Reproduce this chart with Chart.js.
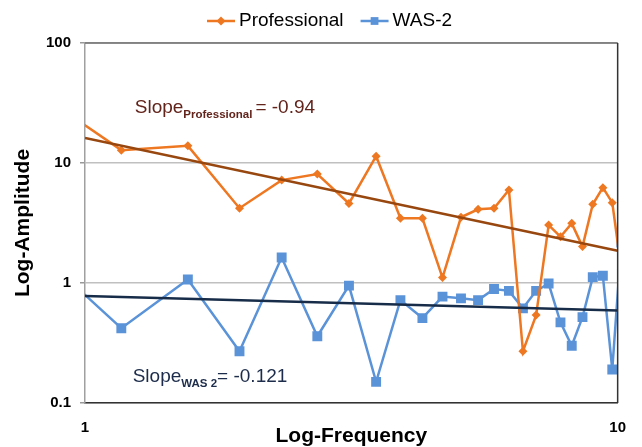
<!DOCTYPE html>
<html>
<head>
<meta charset="utf-8">
<script src="https://cdn.jsdelivr.net/npm/chart.js@4.4.0/dist/chart.umd.min.js"></script>
<style>
  html, body { margin: 0; padding: 0; background: #fff; }
</style>
</head>
<body>
<canvas id="spec" width="642" height="447"></canvas>
<script>
// --- data (first and last points sit just outside the axis range) ---
const freq = [0.78, 1.17, 1.56, 1.95, 2.34, 2.73, 3.13, 3.52, 3.91, 4.30, 4.69, 5.08, 5.47,
              5.86, 6.25, 6.64, 7.03, 7.42, 7.81, 8.20, 8.59, 8.98, 9.38, 9.77, 10.16];
const professional = [44, 12.8, 13.9, 4.2, 7.2, 8.1, 4.6, 11.4, 3.46, 3.46, 1.11, 3.53, 4.11,
                      4.19, 5.96, 0.27, 0.54, 3.04, 2.43, 3.14, 2.01, 4.53, 6.23, 4.67, 1.29];
const was2 = [2.19, 0.42, 1.07, 0.27, 1.63, 0.36, 0.95, 0.15, 0.72, 0.51, 0.77, 0.745, 0.72,
              0.89, 0.86, 0.615, 0.86, 0.99, 0.47, 0.30, 0.52, 1.12, 1.15, 0.19, 2.17];

// power-law trend lines, end points at x = 1 and x = 10
const trendX = [1, 10];
const trendPro = [16.2, 1.86];
const trendWas = [0.78, 0.59];

const seriesNames = ['Professional', 'WAS-2'];
const xTicks = [1, 10];
const yTicks = [0.1, 1, 10, 100];

const ORANGE = '#ee7722';
const BLUE = '#5b93d8';
const BROWN = '#98470f';
const NAVY = '#172c48';
const FONT = '"Liberation Sans", Arial, sans-serif';

const toPts = (xs, ys) => xs.map((x, i) => ({ x: x, y: ys[i] }));

// --- legend, frame and slope labels ---
function slopeLabel(ctx, x, y, sub, rest, color, gap) {
    ctx.fillStyle = color;
    ctx.textBaseline = 'middle';
    ctx.textAlign = 'left';
    ctx.font = '19px ' + FONT;
    ctx.fillText('Slope', x, y);
    let w = ctx.measureText('Slope').width;
    ctx.font = 'bold 11.5px ' + FONT;
    ctx.fillText(sub, x + w, y + 7);
    w += ctx.measureText(sub).width + gap;
    ctx.font = '19px ' + FONT;
    ctx.fillText(rest, x + w, y);
}

const extras = {
    id: 'extras',
    afterDatasetsDraw(c) {
        const { ctx, chartArea: a } = c;
        ctx.save();
        ctx.lineWidth = 1.5;
        ctx.strokeStyle = '#6e6e6e';
        ctx.beginPath(); ctx.moveTo(a.left, a.top); ctx.lineTo(a.right, a.top); ctx.stroke();
        ctx.strokeStyle = '#333';
        ctx.beginPath(); ctx.moveTo(a.right, a.top); ctx.lineTo(a.right, a.bottom); ctx.stroke();
        ctx.restore();
    },
    afterDraw(c) {
        const { ctx } = c;
        const sx = c.scales.x, sy = c.scales.y;
        ctx.save();

        // legend
        const marks = [
            { color: ORANGE, style: 'rectRot', r: 4.5 },
            { color: BLUE, style: 'rect', r: 5.5 }
        ];
        let lx = 207;
        const ly = 21;
        ctx.font = '19px ' + FONT;
        ctx.textBaseline = 'middle';
        marks.forEach((m, i) => {
            ctx.strokeStyle = m.color;
            ctx.fillStyle = m.color;
            ctx.lineWidth = 2.5;
            ctx.beginPath(); ctx.moveTo(lx, ly); ctx.lineTo(lx + 28, ly); ctx.stroke();
            Chart.helpers.drawPoint(ctx, { pointStyle: m.style, radius: m.r, borderWidth: 0, rotation: 0 }, lx + 14, ly);
            ctx.fillStyle = '#000';
            ctx.font = '19px ' + FONT;
            ctx.fillText(seriesNames[i], lx + 32, ly);
            lx += 32 + ctx.measureText(seriesNames[i]).width + 17;
        });

        // slope annotations
        slopeLabel(ctx, sx.getPixelForValue(1.24), sy.getPixelForValue(28.7),
                   'Professional', '= -0.94', '#62231b', 3);
        slopeLabel(ctx, sx.getPixelForValue(1.229), sy.getPixelForValue(0.165),
                   'WAS 2', '= -0.121', '#1c2c4a', 0);
        ctx.restore();
    }
};

const tickFont = { family: FONT, size: 15, weight: 'bold' };
const titleFont = { family: FONT, size: 21, weight: 'bold', lineHeight: 1 };

new Chart(document.getElementById('spec'), {
    type: 'line',
    data: {
        datasets: [
            { label: 'Slope Professional', data: toPts(trendX, trendPro), borderColor: BROWN,
              borderWidth: 2.5, pointRadius: 0, clip: 0, order: 0 },
            { label: 'Slope WAS-2', data: toPts(trendX, trendWas), borderColor: NAVY,
              borderWidth: 2.5, pointRadius: 0, clip: 0, order: 0 },
            { label: seriesNames[0], data: toPts(freq, professional), borderColor: ORANGE,
              backgroundColor: ORANGE, borderWidth: 2.5, pointStyle: 'rectRot', pointRadius: 4.5,
              pointBorderWidth: 0, clip: 0, order: 1 },
            { label: seriesNames[1], data: toPts(freq, was2), borderColor: BLUE,
              backgroundColor: BLUE, borderWidth: 2.5, pointStyle: 'rect', pointRadius: 7,
              pointBorderWidth: 0, clip: 0, order: 1 }
        ]
    },
    options: {
        responsive: false,
        animation: false,
        devicePixelRatio: 1,
        layout: { padding: { top: 43, right: 21, left: 0, bottom: 0 } },
        plugins: { legend: { display: false }, tooltip: { enabled: false } },
        scales: {
            x: {
                type: 'logarithmic', min: 1, max: 10,
                afterBuildTicks: s => { s.ticks = xTicks.map(v => ({ value: v })); },
                afterFit: s => { s.height = 44; },
                ticks: { callback: v => String(v), font: tickFont, color: '#000', padding: 16,
                         maxRotation: 0, autoSkip: false },
                grid: { color: 'rgba(0,0,0,0)', drawTicks: false },
                border: { color: '#333', width: 1.5 },
                title: { display: true, text: 'Log-Frequency', font: titleFont, color: '#000',
                         padding: 0 }
            },
            y: {
                type: 'logarithmic', min: 0.1, max: 100,
                afterBuildTicks: s => { s.ticks = yTicks.map(v => ({ value: v })); },
                afterFit: s => { s.width = 85; },
                ticks: { callback: v => String(v), font: tickFont, color: '#000', padding: 9 },
                grid: { color: '#c0c0c0', lineWidth: 1.5, tickLength: 5, tickColor: '#999' },
                border: { color: '#a0a0a0', width: 1.5 },
                title: { display: true, text: 'Log-Amplitude', font: titleFont, color: '#000',
                         padding: { top: 12.5, bottom: 0 } }
            }
        }
    },
    plugins: [extras]
});
</script>
</body>
</html>
